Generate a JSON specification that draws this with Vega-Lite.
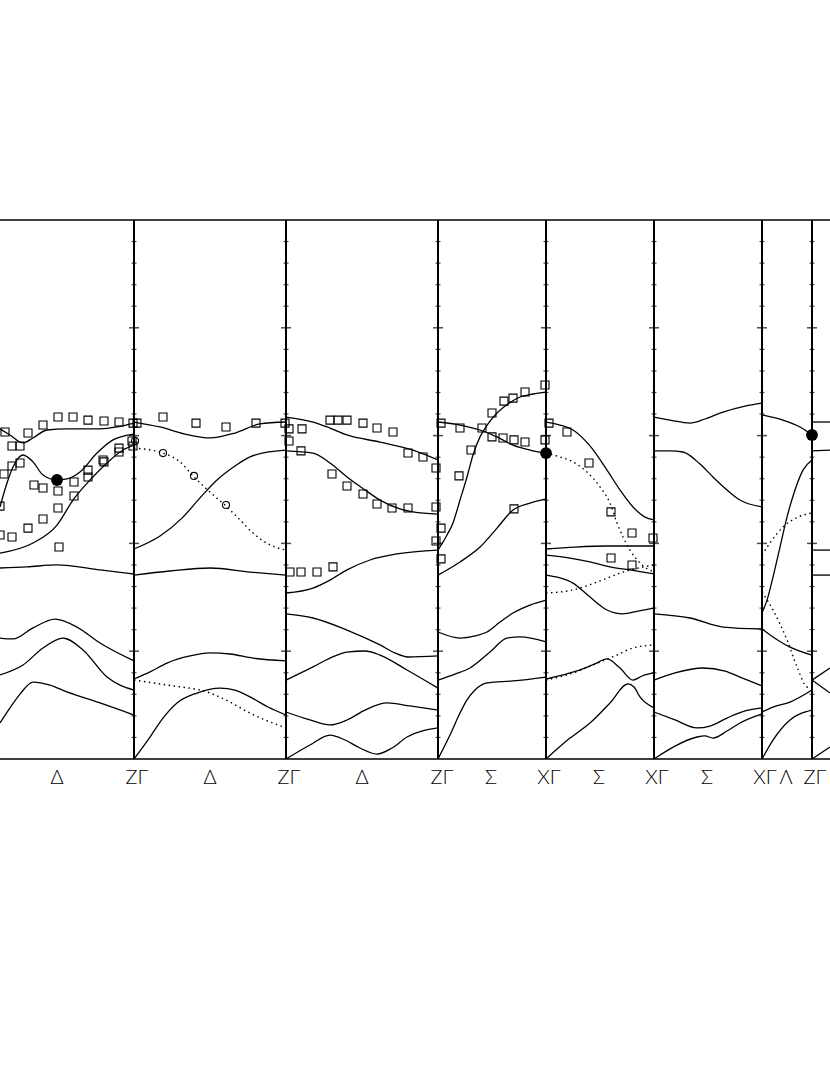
{
  "$schema": "https://vega.github.io/schema/vega-lite/v6.json",
  "width": 830,
  "height": 539,
  "autosize": {"type": "none"},
  "padding": {"left": 0, "top": 220, "right": 0, "bottom": 316},
  "background": "white",
  "config": {"view": {"stroke": null}},
  "datasets": {
    "dividers": [
      {"k": 134, "minor": [1,2,3,4,6,7,8,9,11,12,13,14,16,17,18,19,21,22,23,24], "major": [5,10,15,20]},
      {"k": 286, "minor": [1,2,3,4,6,7,8,9,11,12,13,14,16,17,18,19,21,22,23,24], "major": [5,10,15,20]},
      {"k": 438, "minor": [1,2,3,4,6,7,8,9,11,12,13,14,16,17,18,19,21,22,23,24], "major": [5,10,15,20]},
      {"k": 546, "minor": [1,2,3,4,6,7,8,9,11,12,13,14,16,17,18,19,21,22,23,24], "major": [5,10,15,20]},
      {"k": 654, "minor": [1,2,3,4,6,7,8,9,11,12,13,14,16,17,18,19,21,22,23,24], "major": [5,10,15,20]},
      {"k": 762, "minor": [1,2,3,4,6,7,8,9,11,12,13,14,16,17,18,19,21,22,23,24], "major": [5,10,15,20]},
      {"k": 812, "minor": [1,2,3,4,6,7,8,9,11,12,13,14,16,17,18,19,21,22,23,24], "major": [5,10,15,20]}
    ],
    "frame": [{"e": 0}, {"e": 25}],
    "symmetry": [
      {"k": 57, "label": "Δ"},
      {"k": 137, "label": "ZΓ"},
      {"k": 210, "label": "Δ"},
      {"k": 289, "label": "ZΓ"},
      {"k": 362, "label": "Δ"},
      {"k": 442, "label": "ZΓ"},
      {"k": 491, "label": "Σ"},
      {"k": 549, "label": "XΓ"},
      {"k": 599, "label": "Σ"},
      {"k": 657, "label": "XΓ"},
      {"k": 707, "label": "Σ"},
      {"k": 765, "label": "XΓ"},
      {"k": 786, "label": "Λ"},
      {"k": 815, "label": "ZΓ"}
    ],
    "solid": [
      {"b": "a1", "k": [0,10,23,33,47,67,100,117,134], "e": [15.31,15.03,14.66,14.89,15.26,15.31,15.31,15.40,15.58]},
      {"b": "a2", "k": [0,7,13,23,33,43,57,67,80,97,113,134], "e": [11.69,12.80,13.54,14.10,13.78,13.17,12.94,12.99,13.31,14.19,14.80,15.07]},
      {"b": "a3", "k": [0,33,57,73,90,107,123,134], "e": [9.55,10.02,10.85,12.01,12.94,13.73,14.33,14.56]},
      {"b": "a4", "k": [0,27,57,100,134], "e": [8.86,8.91,9.00,8.77,8.58]},
      {"b": "a5", "k": [0,13,33,55,77,100,134], "e": [5.61,5.57,6.08,6.49,6.12,5.38,4.55]},
      {"b": "a6", "k": [0,23,43,63,83,107,134], "e": [3.90,4.36,5.15,5.61,5.06,3.80,3.20]},
      {"b": "a7", "k": [0,10,20,33,50,67,100,134], "e": [1.67,2.37,3.01,3.57,3.43,3.11,2.60,2.04]},
      {"b": "b1", "k": [134,160,185,210,235,260,286], "e": [15.63,15.40,15.07,14.89,15.12,15.54,15.63]},
      {"b": "b2", "k": [134,160,183,200,217,235,250,268,286], "e": [9.74,10.34,11.22,12.11,12.94,13.59,14.01,14.24,14.33]},
      {"b": "b3", "k": [134,170,210,250,286], "e": [8.53,8.72,8.86,8.67,8.53]},
      {"b": "b4", "k": [134,150,167,190,210,230,253,286], "e": [3.71,4.04,4.45,4.78,4.92,4.87,4.68,4.55]},
      {"b": "b5", "k": [134,150,163,177,197,220,235,250,268,286], "e": [0,1.02,1.90,2.60,3.06,3.29,3.20,2.88,2.41,2.04]},
      {"b": "c1", "k": [286,313,330,347,380,413,438], "e": [15.86,15.63,15.35,15.03,14.70,14.33,13.87]},
      {"b": "c2", "k": [286,313,330,347,365,380,400,413,438], "e": [14.29,14.19,13.73,13.08,12.48,12.01,11.60,11.46,11.36]},
      {"b": "c3", "k": [286,313,330,347,370,397,438], "e": [7.70,7.93,8.30,8.77,9.23,9.51,9.69]},
      {"b": "c4", "k": [286,313,347,380,395,408,438], "e": [6.73,6.54,5.98,5.29,4.92,4.73,4.78]},
      {"b": "c5", "k": [286,313,330,347,365,380,407,438], "e": [3.66,4.27,4.68,4.96,5.01,4.82,4.13,3.29]},
      {"b": "c6", "k": [286,310,330,347,365,387,410,438], "e": [2.18,1.81,1.58,1.81,2.27,2.60,2.46,2.27]},
      {"b": "c7", "k": [286,310,330,345,360,377,392,407,438], "e": [0,0.65,1.11,0.88,0.51,0.23,0.51,1.02,1.44]},
      {"b": "e1", "k": [438,460,480,497,513,530,546], "e": [15.63,15.49,15.26,14.94,14.56,14.33,14.19]},
      {"b": "e2", "k": [438,447,453,460,467,473,480,488,497,508,520,533,546], "e": [9.69,10.39,10.95,12.01,13.08,14.10,14.94,15.54,16.05,16.47,16.79,16.93,17.02]},
      {"b": "e3", "k": [438,460,480,497,513,530,546], "e": [8.53,9.14,9.83,10.71,11.55,11.87,12.06]},
      {"b": "e4", "k": [438,460,475,487,500,513,530,546], "e": [5.89,5.61,5.71,5.89,6.35,6.77,7.14,7.37]},
      {"b": "e5", "k": [438,455,470,490,507,520,546], "e": [3.66,3.94,4.22,4.96,5.61,5.66,5.43]},
      {"b": "e6", "k": [438,450,460,467,475,487,513,546], "e": [0,1.11,2.13,2.74,3.20,3.53,3.62,3.80]},
      {"b": "f1", "k": [546,560,573,590,607,620,633,645,654], "e": [15.63,15.49,15.26,14.52,13.40,12.48,11.69,11.22,11.09]},
      {"b": "f2", "k": [546,575,607,654], "e": [9.74,9.83,9.88,9.88]},
      {"b": "f3", "k": [546,570,590,610,630,654], "e": [9.46,9.32,9.14,8.91,8.77,8.58]},
      {"b": "f4", "k": [546,560,573,590,607,623,638,654], "e": [8.53,8.40,8.16,7.51,6.91,6.73,6.86,7.00]},
      {"b": "f5", "k": [546,563,580,595,607,620,633,642,654], "e": [3.71,3.90,4.13,4.41,4.64,4.22,3.66,3.85,3.99]},
      {"b": "f6", "k": [546,570,590,610,628,634,640,654], "e": [0,0.97,1.67,2.60,3.48,3.34,2.88,2.37]},
      {"b": "g1", "k": [654,670,690,705,723,745,762], "e": [15.86,15.72,15.58,15.77,16.09,16.37,16.51]},
      {"b": "g2", "k": [654,670,683,700,713,727,740,762], "e": [14.29,14.29,14.24,13.68,13.08,12.48,12.01,11.69]},
      {"b": "g3", "k": [654,690,723,762], "e": [6.73,6.54,6.12,6.03]},
      {"b": "g4", "k": [654,675,703,725,740,762], "e": [3.66,3.99,4.22,4.08,3.80,3.39]},
      {"b": "g5", "k": [654,675,697,710,727,745,762], "e": [2.18,1.81,1.44,1.53,1.90,2.23,2.37]},
      {"b": "g6", "k": [654,675,697,705,713,727,740,762], "e": [0,0.60,1.02,1.07,0.97,1.30,1.67,2.09]},
      {"b": "h1", "k": [762,783,800,812], "e": [15.96,15.72,15.40,15.03]},
      {"b": "h2", "k": [762,767,773,780,787,795,803,812], "e": [6.77,7.37,8.44,9.83,11.22,12.48,13.40,13.87]},
      {"b": "h3", "k": [762,773,790,812], "e": [6.03,5.66,5.19,4.82]},
      {"b": "h4", "k": [762,773,790,812], "e": [2.18,2.41,2.64,3.20]},
      {"b": "h5", "k": [762,773,790,812], "e": [0,0.88,1.81,2.27]},
      {"b": "i1", "k": [812,830], "e": [15.63,15.63]},
      {"b": "i2", "k": [812,830], "e": [14.29,14.33]},
      {"b": "i3", "k": [812,830], "e": [9.69,9.69]},
      {"b": "i4", "k": [812,830], "e": [8.53,8.53]},
      {"b": "i5", "k": [812,830], "e": [3.66,4.22]},
      {"b": "i6", "k": [812,830], "e": [3.66,3.06]},
      {"b": "i7", "k": [812,830], "e": [0,0.56]}
    ],
    "dotted": [
      {"b": "d1", "k": [134,163,180,194,210,227,240,253,270,286], "e": [14.42,14.19,13.78,13.08,12.38,11.69,11.09,10.48,9.93,9.69]},
      {"b": "d2", "k": [134,167,210,230,250,270,286], "e": [3.66,3.43,3.06,2.64,2.13,1.72,1.44]},
      {"b": "d3", "k": [546,560,573,587,600,610,617,623,630,640,654], "e": [14.19,14.01,13.78,13.31,12.62,11.87,10.95,10.30,9.69,9.09,8.67]},
      {"b": "d4", "k": [546,573,600,623,654], "e": [7.70,7.84,8.26,8.67,9.00]},
      {"b": "d5", "k": [546,573,600,615,633,654], "e": [3.66,3.99,4.50,4.78,5.15,5.29]},
      {"b": "d6", "k": [762,770,783,798,812], "e": [9.46,10.02,10.76,11.22,11.41]},
      {"b": "d7", "k": [762,773,787,797,807,812], "e": [7.75,6.91,5.52,4.27,3.34,3.29]}
    ],
    "squares": [
      {"k": [5,28,12,20,43,58,73,88,104,119,133,20,12,4,0,34,43,58,74,88,88,103,104,119,119,133,132,74,58,43,28,12,0,59],
       "e": [15.17,15.12,14.52,14.52,15.49,15.86,15.86,15.72,15.68,15.63,15.58,13.73,13.59,13.22,11.73,12.71,12.57,12.43,12.85,13.40,13.08,13.87,13.78,14.42,14.24,14.52,14.75,12.20,11.64,11.13,10.71,10.30,10.39,9.83]},
      {"k": [137,163,196,226,256,285],
       "e": [15.58,15.86,15.58,15.40,15.58,15.58]},
      {"k": [289,302,289,301,330,338,347,363,377,393,408,423,436,332,347,363,377,392,408,436,436,290,301,317,333,441,441],
       "e": [15.31,15.31,14.75,14.29,15.72,15.72,15.72,15.58,15.35,15.17,14.19,14.01,13.50,13.22,12.66,12.29,11.83,11.64,11.64,11.69,10.11,8.67,8.67,8.67,8.91,10.71,9.28]},
      {"k": [441,460,482,492,504,513,525,545,471,459,492,503,514,525,545,514],
       "e": [15.58,15.35,15.35,16.05,16.60,16.74,17.02,17.35,14.33,13.13,14.94,14.89,14.80,14.70,14.80,11.60]},
      {"k": [549,567,589,611,632,653,611,632],
       "e": [15.58,15.17,13.73,11.46,10.48,10.25,9.32,9.00]}
    ],
    "circles": [
      {"k": [135,163,194,226], "e": [14.75,14.19,13.13,11.78]}
    ],
    "dots": [
      {"k": [57,546,812], "e": [12.94,14.19,15.03]}
    ]
  },
  "layer": [
    {
      "data": {"name": "solid"},
      "transform": [{"flatten": ["k", "e"]}],
      "mark": {"type": "line", "color": "black", "strokeWidth": 1.3, "interpolate": "monotone", "clip": true},
      "encoding": {
        "x": {"field": "k", "type": "quantitative", "scale": {"domain": [0, 830], "nice": false, "zero": false}, "axis": null},
        "y": {"field": "e", "type": "quantitative", "scale": {"domain": [0, 25], "nice": false, "zero": false}, "axis": null},
        "detail": {"field": "b", "type": "nominal"}
      }
    },
    {
      "data": {"name": "dividers"},
      "mark": {"type": "rule", "color": "black", "strokeWidth": 2},
      "encoding": {
        "x": {"field": "k", "type": "quantitative", "scale": {"domain": [0, 830], "nice": false, "zero": false}, "axis": null}
      }
    },
    {
      "data": {"name": "frame"},
      "mark": {"type": "rule", "color": "black", "strokeWidth": 1.3},
      "encoding": {
        "y": {"field": "e", "type": "quantitative", "scale": {"domain": [0, 25], "nice": false, "zero": false}, "axis": null}
      }
    },
    {
      "data": {"name": "dividers"},
      "transform": [{"flatten": ["minor"], "as": ["e"]}],
      "mark": {"type": "tick", "orient": "horizontal", "color": "black", "size": 5, "thickness": 1.2},
      "encoding": {
        "x": {"field": "k", "type": "quantitative", "scale": {"domain": [0, 830], "nice": false, "zero": false}, "axis": null},
        "y": {"field": "e", "type": "quantitative", "scale": {"domain": [0, 25], "nice": false, "zero": false}, "axis": null}
      }
    },
    {
      "data": {"name": "dividers"},
      "transform": [{"flatten": ["major"], "as": ["e"]}],
      "mark": {"type": "tick", "orient": "horizontal", "color": "black", "size": 10, "thickness": 1.5},
      "encoding": {
        "x": {"field": "k", "type": "quantitative", "scale": {"domain": [0, 830], "nice": false, "zero": false}, "axis": null},
        "y": {"field": "e", "type": "quantitative", "scale": {"domain": [0, 25], "nice": false, "zero": false}, "axis": null}
      }
    },
    {
      "data": {"name": "dotted"},
      "transform": [{"flatten": ["k", "e"]}],
      "mark": {"type": "line", "color": "black", "strokeWidth": 1.4, "strokeDash": [1.5, 3.5], "interpolate": "monotone", "clip": true},
      "encoding": {
        "x": {"field": "k", "type": "quantitative", "scale": {"domain": [0, 830], "nice": false, "zero": false}, "axis": null},
        "y": {"field": "e", "type": "quantitative", "scale": {"domain": [0, 25], "nice": false, "zero": false}, "axis": null},
        "detail": {"field": "b", "type": "nominal"}
      }
    },
    {
      "data": {"name": "squares"},
      "transform": [{"flatten": ["k", "e"]}],
      "mark": {"type": "point", "shape": "square", "filled": false, "color": "black", "strokeWidth": 1.1, "size": 64, "opacity": 1},
      "encoding": {
        "x": {"field": "k", "type": "quantitative", "scale": {"domain": [0, 830], "nice": false, "zero": false}, "axis": null},
        "y": {"field": "e", "type": "quantitative", "scale": {"domain": [0, 25], "nice": false, "zero": false}, "axis": null}
      }
    },
    {
      "data": {"name": "circles"},
      "transform": [{"flatten": ["k", "e"]}],
      "mark": {"type": "point", "shape": "circle", "filled": false, "color": "black", "strokeWidth": 1.1, "size": 50, "opacity": 1},
      "encoding": {
        "x": {"field": "k", "type": "quantitative", "scale": {"domain": [0, 830], "nice": false, "zero": false}, "axis": null},
        "y": {"field": "e", "type": "quantitative", "scale": {"domain": [0, 25], "nice": false, "zero": false}, "axis": null}
      }
    },
    {
      "data": {"name": "dots"},
      "transform": [{"flatten": ["k", "e"]}],
      "mark": {"type": "point", "shape": "circle", "filled": true, "color": "black", "size": 140, "opacity": 1},
      "encoding": {
        "x": {"field": "k", "type": "quantitative", "scale": {"domain": [0, 830], "nice": false, "zero": false}, "axis": null},
        "y": {"field": "e", "type": "quantitative", "scale": {"domain": [0, 25], "nice": false, "zero": false}, "axis": null}
      }
    },
    {
      "data": {"name": "symmetry"},
      "mark": {"type": "text", "color": "black", "font": "Lato", "fontWeight": 300, "fontSize": 20, "baseline": "middle", "align": "center"},
      "encoding": {
        "x": {"field": "k", "type": "quantitative", "scale": {"domain": [0, 830], "nice": false, "zero": false}, "axis": null},
        "y": {"datum": -0.88, "type": "quantitative", "scale": {"domain": [0, 25], "nice": false, "zero": false}, "axis": null},
        "text": {"field": "label", "type": "nominal"}
      }
    }
  ]
}
